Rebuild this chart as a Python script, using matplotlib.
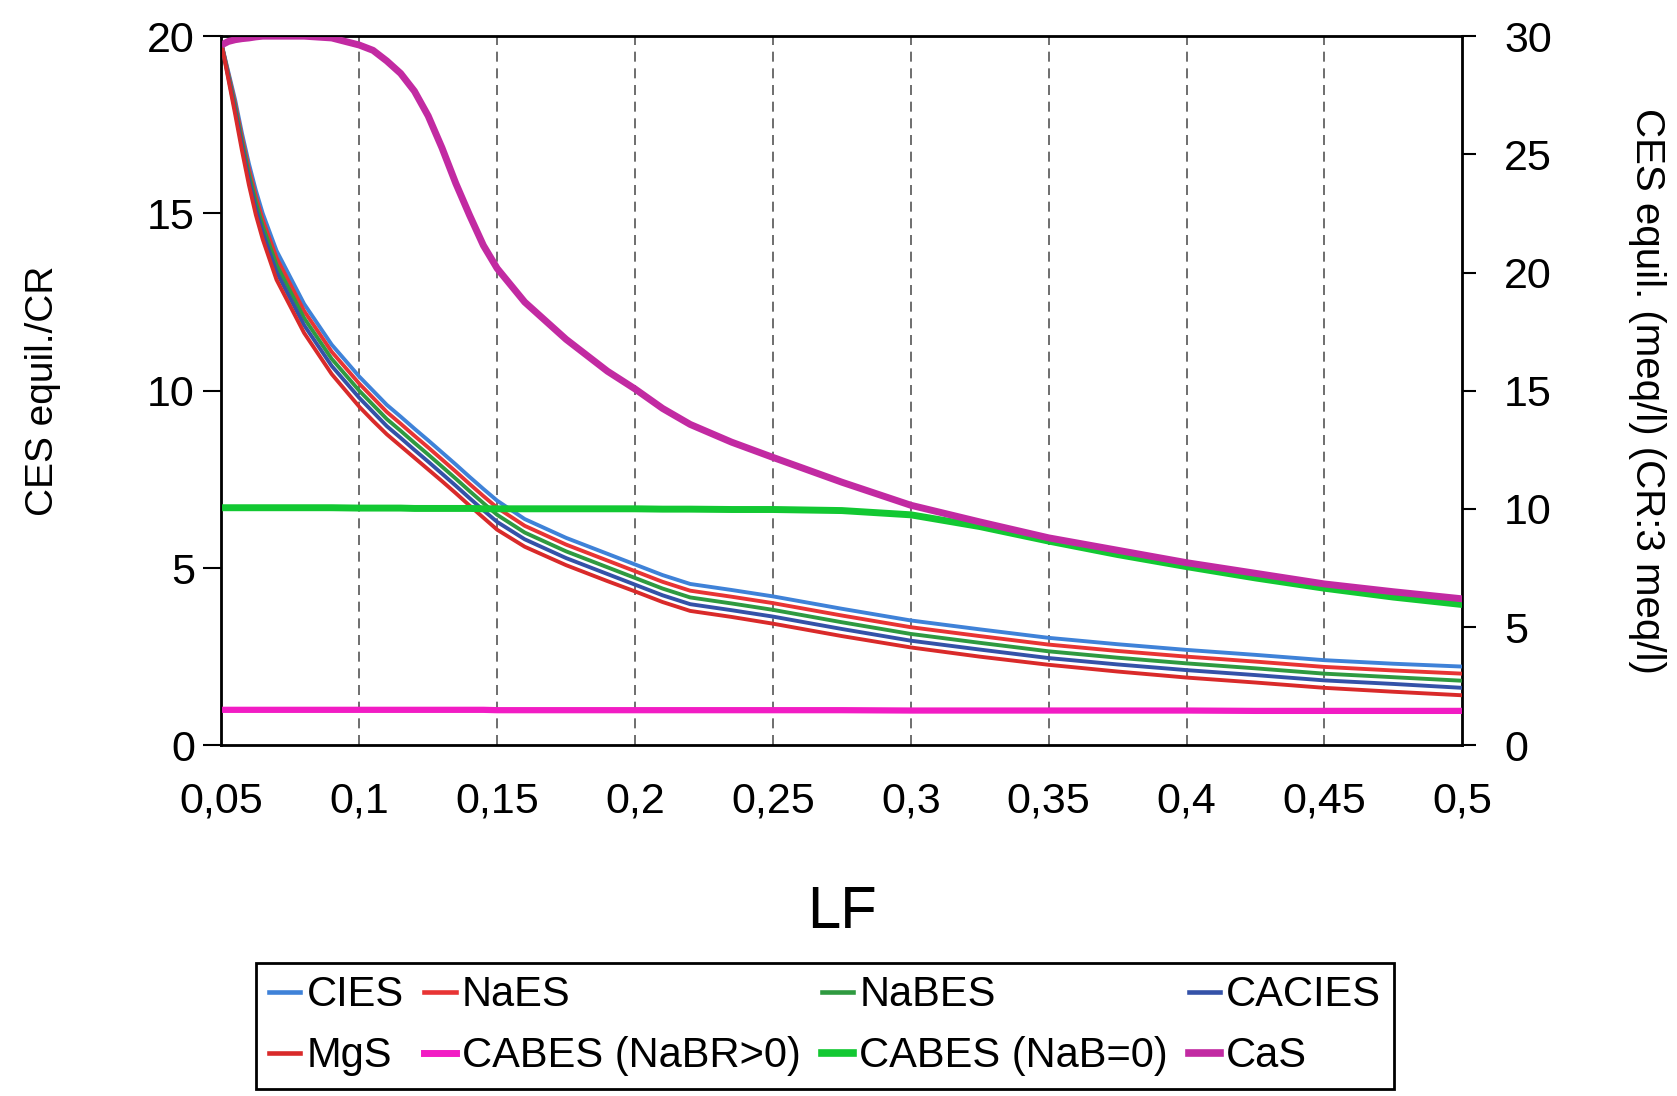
import numpy as np
import matplotlib.pyplot as plt
from matplotlib.lines import Line2D

plt.rcParams['font.family'] = ['Liberation Sans', 'DejaVu Sans']

lf = [0.05, 0.0525, 0.055, 0.0575, 0.06, 0.0625, 0.065, 0.07, 0.08, 0.09,
      0.1, 0.105, 0.11, 0.115, 0.12, 0.125, 0.13, 0.135, 0.14, 0.145,
      0.15, 0.16, 0.175, 0.19, 0.2, 0.21, 0.22, 0.235, 0.25, 0.275,
      0.3, 0.325, 0.35, 0.375, 0.4, 0.425, 0.45, 0.475, 0.5]

cies = [19.8, 19.0, 18.2, 17.25, 16.4, 15.65, 15.0, 13.95, 12.45, 11.3,
        10.4, 10.0, 9.6, 9.27, 8.93, 8.6, 8.26, 7.92, 7.57, 7.23,
        6.9, 6.38, 5.85, 5.4, 5.1, 4.8, 4.55, 4.38, 4.2, 3.85,
        3.52, 3.27, 3.03, 2.85, 2.69, 2.55, 2.40, 2.30, 2.22]
naes = [19.8, 18.95, 18.1, 17.13, 16.25, 15.48, 14.82, 13.75, 12.25, 11.1,
        10.2, 9.8, 9.4, 9.07, 8.73, 8.4, 8.06, 7.72, 7.37, 7.03,
        6.7, 6.19, 5.66, 5.21, 4.91, 4.61, 4.36, 4.19, 4.01, 3.66,
        3.33, 3.08, 2.84, 2.66, 2.5, 2.36, 2.21, 2.11, 2.02]
nabes = [19.8, 18.9, 18.0, 17.01, 16.1, 15.31, 14.64, 13.55, 12.05, 10.9,
         10.0, 9.6, 9.2, 8.87, 8.53, 8.2, 7.86, 7.52, 7.17, 6.83,
         6.5, 6.0, 5.47, 5.02, 4.72, 4.42, 4.17, 4.0, 3.82, 3.47,
         3.14, 2.89, 2.65, 2.47, 2.31, 2.17, 2.02, 1.92, 1.82]
cacies = [19.8, 18.85, 17.9, 16.89, 15.95, 15.14, 14.46, 13.35, 11.85, 10.7,
          9.8, 9.4, 9.0, 8.67, 8.33, 8.0, 7.66, 7.32, 6.97, 6.63,
          6.3, 5.81, 5.28, 4.83, 4.53, 4.23, 3.98, 3.81, 3.63, 3.28,
          2.95, 2.7, 2.46, 2.28, 2.12, 1.98, 1.83, 1.73, 1.62]
mgs = [19.8, 18.8, 17.8, 16.76, 15.8, 14.96, 14.27, 13.13, 11.63, 10.47,
       9.55, 9.15, 8.77, 8.44, 8.11, 7.78, 7.45, 7.11, 6.76, 6.42,
       6.08, 5.6, 5.08, 4.63, 4.34, 4.04, 3.79, 3.62, 3.43, 3.08,
       2.76, 2.5, 2.27, 2.08, 1.91, 1.77, 1.62, 1.51, 1.41]
cabes_br = [1.0, 1.0, 1.0, 1.0, 1.0, 1.0, 1.0, 1.0, 1.0, 1.0,
            1.0, 1.0, 1.0, 1.0, 1.0, 1.0, 1.0, 1.0, 1.0, 1.0,
            0.99, 0.99, 0.99, 0.99, 0.99, 0.99, 0.99, 0.99, 0.99, 0.99,
            0.98, 0.98, 0.98, 0.98, 0.98, 0.97, 0.97, 0.97, 0.97]
cabes_b0 = [6.7, 6.7, 6.7, 6.7, 6.7, 6.7, 6.7, 6.7, 6.7, 6.7,
            6.69, 6.69, 6.69, 6.69, 6.68, 6.68, 6.68, 6.68, 6.68, 6.67,
            6.67, 6.67, 6.67, 6.67, 6.67, 6.66, 6.66, 6.65, 6.65, 6.62,
            6.5, 6.17, 5.76, 5.38, 5.04, 4.72, 4.43, 4.18, 3.97]
cas = [19.75, 19.85, 19.9, 19.93, 19.95, 19.98, 20.0, 20.0, 20.0, 19.95,
       19.75, 19.6, 19.3, 18.95, 18.45, 17.75, 16.85, 15.85, 14.95, 14.1,
       13.45, 12.5, 11.45, 10.55, 10.05, 9.5, 9.05, 8.55, 8.12, 7.42,
       6.77, 6.3, 5.85, 5.5, 5.15, 4.85, 4.55, 4.33, 4.13]

xticks = [0.05, 0.1, 0.15, 0.2, 0.25, 0.3, 0.35, 0.4, 0.45, 0.5]
xlabels = ['0,05', '0,1', '0,15', '0,2', '0,25', '0,3', '0,35', '0,4', '0,45', '0,5']

series = [
    ('CIES', cies, '#3f82d8', 2.8),
    ('NaES', naes, '#e83434', 2.8),
    ('NaBES', nabes, '#2f9a40', 2.8),
    ('CACIES', cacies, '#3452a8', 2.8),
    ('MgS', mgs, '#d92a2a', 2.8),
    ('CABES (NaBR>0)', cabes_br, '#f21cc4', 4.5),
    ('CABES (NaB=0)', cabes_b0, '#12c832', 5),
    ('CaS', cas, '#c22aa2', 5),
]

fig = plt.figure(figsize=(16.77, 10.96), dpi=100)
ax = fig.add_axes([0.132, 0.32, 0.74, 0.647])

for x in xticks[1:-1]:
    ax.axvline(x, color='#555555', lw=1.2, dashes=(6, 4), zorder=1)

handles = []
for name, vals, col, lw in series:
    ax.plot(lf, vals, color=col, lw=lw, solid_capstyle='butt',
            solid_joinstyle='round', zorder=3)
    handles.append(Line2D([], [], color=col, lw=lw + 0.5))

ax.set_xlim(0.05, 0.5)
ax.set_ylim(0, 20)
ax.set_xticks(xticks)
ax.set_xticklabels(xlabels)
ax.set_yticks([0, 5, 10, 15, 20])
ax.tick_params(axis='x', length=0, pad=26, labelsize=31)
ax.tick_params(axis='y', direction='out', length=13, width=1.5, pad=6, labelsize=31)
for s in ax.spines.values():
    s.set_linewidth(2)
ax.set_xlabel('LF', fontsize=43, labelpad=46)
ax.set_ylabel('CES equil./CR', fontsize=28, labelpad=62)

ax2 = ax.twinx()
ax2.set_ylim(0, 30)
ax2.set_yticks([0, 5, 10, 15, 20, 25, 30])
ax2.tick_params(axis='y', direction='out', length=10, width=1.5, pad=20, labelsize=31)
ax2.set_ylabel('CES equil. (meq/l) (CR:3 meq/l)', fontsize=29, rotation=-90,
               labelpad=82)

# legend order matches the two-row layout of the original
order = [0, 4, 1, 5, 2, 6, 3, 7]
leg = fig.legend([handles[i] for i in order], [series[i][0] for i in order],
                 loc='center', bbox_to_anchor=(0.492, 0.064), ncol=4,
                 prop={'size': 30},
                 handlelength=0.75, handletextpad=0.15, columnspacing=0.5,
                 labelspacing=0.5, borderpad=0.3, fancybox=False,
                 edgecolor='black', framealpha=1)
leg.get_frame().set_linewidth(2)

fig.savefig('out.png', dpi=100, facecolor='white')
